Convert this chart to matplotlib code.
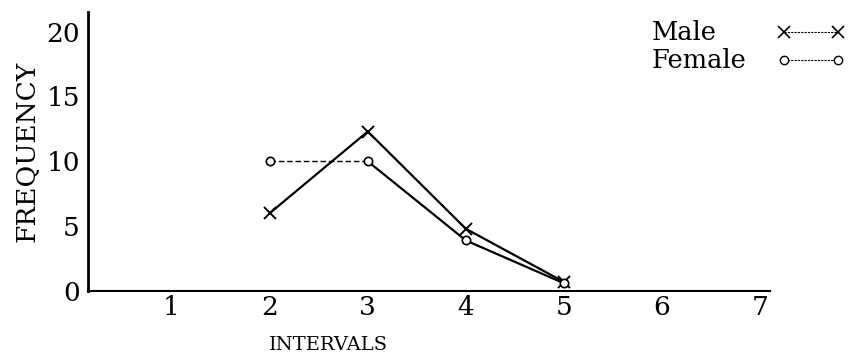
import matplotlib.pyplot as plt

intervals = [2, 3, 4, 5]
male = [6, 12.3, 4.8, 0.7]
female = [10, 10, 3.9, 0.6]
xticks = [1, 2, 3, 4, 5, 6, 7]
yticks = [0, 5, 10, 15, 20]

plt.rcParams['font.family'] = ['DejaVu Serif', 'DejaVu Sans']

fig = plt.figure(figsize=(8.48, 3.58), dpi=100)
ax = fig.add_axes([0.104, 0.187, 0.804, 0.779])

# male: solid line with x markers
ax.plot(intervals, male, color='black', lw=1.6, marker='x', ms=9, mew=1.4)
# female: first segment dashed, rest solid, open circles
ax.plot(intervals[:2], female[:2], color='black', lw=1.0, ls=(0, (4, 2)))
ax.plot(intervals[1:], female[1:], color='black', lw=1.6)
ax.plot(intervals, female, ls='none', marker='o', ms=6, mfc='white', mec='black', mew=1.2)

ax.set_xlim(0.15, 7.1)
ax.set_ylim(0, 21.5)
ax.set_xticks(xticks)
ax.set_yticks(yticks)
ax.tick_params(length=0, labelsize=19)
ax.tick_params(axis='x', pad=3)
ax.tick_params(axis='y', pad=6)

ax.spines['top'].set_visible(False)
ax.spines['right'].set_visible(False)
ax.spines['left'].set_linewidth(2)
ax.spines['bottom'].set_linewidth(1.5)
ax.spines['bottom'].set_linestyle((0, (8, 1)))

ax.set_ylabel('FREQUENCY', fontsize=19, labelpad=5)
ax.set_xlabel('INTERVALS', fontsize=14)
ax.xaxis.set_label_coords(0.352, -0.16)

# legend in upper right
lx = [0.925, 0.988]
fig.text(0.768, 0.91, 'Male', fontsize=18.5, va='center')
fig.text(0.768, 0.832, 'Female', fontsize=18.5, va='center')
fig.lines.append(plt.Line2D(lx, [0.91, 0.91], transform=fig.transFigure, color='black',
                            lw=0.8, ls=(0, (2, 1)), marker='x', ms=9, mew=1.2))
fig.lines.append(plt.Line2D(lx, [0.832, 0.832], transform=fig.transFigure, color='black',
                            lw=0.8, ls=(0, (2, 1)), marker='o', ms=6, mfc='white', mew=1.0))

fig.savefig('out.png', dpi=100)
